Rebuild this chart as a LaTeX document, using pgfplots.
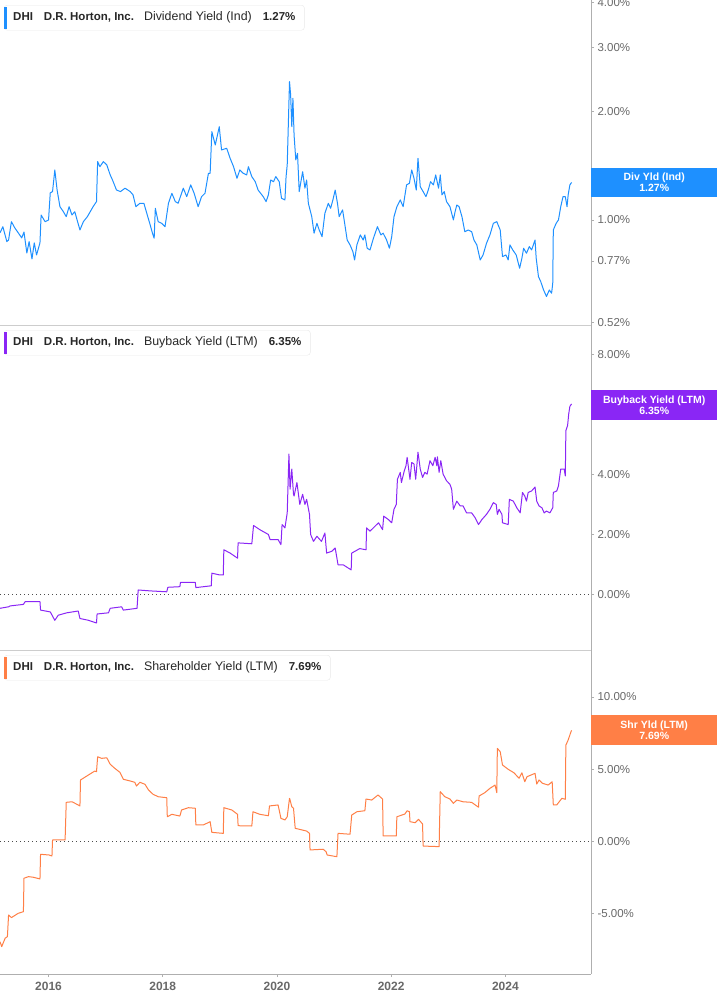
\documentclass[border=0pt]{standalone}
\usepackage{pgfplots}
\pgfplotsset{compat=1.18}
\usepackage{fontspec}
\setmainfont{Liberation Sans}

\definecolor{divc}{RGB}{30,144,255}
\definecolor{bbc}{RGB}{138,38,245}
\definecolor{shc}{RGB}{255,127,70}
\definecolor{axc}{RGB}{175,175,175}
\definecolor{sepc}{RGB}{205,205,205}
\definecolor{lblc}{RGB}{105,105,105}
\definecolor{txtc}{RGB}{40,40,40}

% dividend yield (indicated), % -- log scale
\pgfplotstableread{
yr pct
2015.15 0.921
2015.20 0.958
2015.27 0.871
2015.30 0.880
2015.35 0.989
2015.41 0.950
2015.47 0.921
2015.53 0.892
2015.57 0.926
2015.62 0.810
2015.66 0.871
2015.71 0.780
2015.75 0.864
2015.79 0.800
2015.85 0.864
2015.87 1.032
2015.94 0.989
2016.00 1.000
2016.03 1.188
2016.07 1.198
2016.11 1.375
2016.15 1.210
2016.20 1.088
2016.26 1.054
2016.31 1.021
2016.36 1.088
2016.41 1.032
2016.46 1.054
2016.50 1.000
2016.55 0.938
2016.61 0.989
2016.68 1.021
2016.73 1.054
2016.78 1.088
2016.84 1.124
2016.86 1.450
2016.90 1.404
2016.96 1.450
2017.02 1.420
2017.08 1.332
2017.12 1.290
2017.19 1.210
2017.26 1.198
2017.34 1.224
2017.43 1.198
2017.48 1.173
2017.53 1.088
2017.60 1.112
2017.67 1.112
2017.72 1.044
2017.78 0.969
2017.82 0.919
2017.85 0.890
2017.87 1.077
2017.92 0.989
2017.98 0.979
2018.04 0.958
2018.10 1.112
2018.16 1.185
2018.22 1.124
2018.27 1.112
2018.36 1.224
2018.42 1.160
2018.49 1.250
2018.55 1.185
2018.62 1.088
2018.68 1.160
2018.74 1.185
2018.80 1.346
2018.83 1.346
2018.86 1.755
2018.92 1.612
2018.99 1.811
2019.03 1.562
2019.12 1.579
2019.18 1.481
2019.24 1.404
2019.30 1.304
2019.35 1.375
2019.41 1.346
2019.47 1.332
2019.50 1.404
2019.56 1.318
2019.62 1.276
2019.67 1.210
2019.76 1.160
2019.81 1.124
2019.85 1.173
2019.89 1.290
2019.94 1.276
2019.98 1.318
2020.04 1.276
2020.08 1.148
2020.14 1.136
2020.16 1.318
2020.18 1.420
2020.22 2.413
2020.24 2.217
2020.26 1.811
2020.28 2.171
2020.30 1.718
2020.33 1.466
2020.36 1.529
2020.39 1.198
2020.45 1.360
2020.49 1.224
2020.52 1.290
2020.55 1.112
2020.61 1.021
2020.65 0.919
2020.70 0.979
2020.74 0.938
2020.79 0.899
2020.84 1.044
2020.90 1.112
2020.94 1.077
2020.98 1.136
2021.02 1.210
2021.06 1.112
2021.09 1.021
2021.15 1.066
2021.19 0.969
2021.23 0.880
2021.28 0.853
2021.33 0.817
2021.36 0.775
2021.40 0.853
2021.46 0.909
2021.51 0.880
2021.54 0.909
2021.58 0.835
2021.63 0.826
2021.69 0.890
2021.76 0.958
2021.82 0.909
2021.86 0.919
2021.92 0.880
2021.97 0.835
2022.01 0.899
2022.05 1.021
2022.10 1.088
2022.16 1.136
2022.21 1.088
2022.27 1.250
2022.32 1.263
2022.36 1.375
2022.40 1.304
2022.44 1.210
2022.47 1.481
2022.51 1.236
2022.56 1.198
2022.61 1.160
2022.65 1.210
2022.69 1.276
2022.74 1.250
2022.78 1.332
2022.83 1.224
2022.86 1.332
2022.89 1.173
2022.93 1.198
2022.97 1.124
2023.03 1.088
2023.09 1.000
2023.12 1.054
2023.15 1.100
2023.19 1.088
2023.24 1.021
2023.29 0.928
2023.35 0.938
2023.41 0.928
2023.45 0.880
2023.50 0.853
2023.56 0.775
2023.61 0.800
2023.67 0.862
2023.73 0.909
2023.79 0.979
2023.85 0.989
2023.91 0.938
2023.95 0.792
2024.01 0.800
2024.05 0.775
2024.08 0.853
2024.13 0.826
2024.19 0.800
2024.25 0.735
2024.29 0.784
2024.32 0.835
2024.37 0.809
2024.42 0.844
2024.46 0.826
2024.52 0.880
2024.54 0.784
2024.58 0.697
2024.62 0.675
2024.67 0.640
2024.72 0.614
2024.77 0.640
2024.81 0.627
2024.83 0.668
2024.84 0.938
2024.89 0.979
2024.93 1.000
2024.97 1.088
2025.01 1.160
2025.05 1.160
2025.08 1.088
2025.10 1.173
2025.13 1.250
2025.16 1.270
}\divyld

% buyback yield (LTM), %
\pgfplotstableread{
yr pct
2015.15 -0.46
2015.30 -0.41
2015.33 -0.38
2015.56 -0.33
2015.59 -0.24
2015.85 -0.24
2015.86 -0.52
2016.03 -0.58
2016.11 -0.86
2016.17 -0.69
2016.32 -0.61
2016.52 -0.55
2016.55 -0.80
2016.70 -0.86
2016.84 -0.95
2016.85 -0.65
2017.05 -0.61
2017.08 -0.46
2017.28 -0.41
2017.31 -0.52
2017.55 -0.46
2017.57 0.15
2017.78 0.12
2018.07 0.09
2018.09 0.24
2018.30 0.26
2018.31 0.40
2018.57 0.40
2018.58 0.23
2018.85 0.29
2018.86 0.71
2019.00 0.65
2019.06 0.65
2019.07 1.49
2019.18 1.38
2019.31 1.21
2019.32 1.72
2019.56 1.69
2019.59 2.30
2019.70 2.16
2019.85 2.00
2019.88 1.83
2020.02 1.83
2020.07 1.66
2020.09 2.33
2020.14 2.22
2020.18 2.72
2020.21 4.68
2020.23 3.51
2020.26 4.18
2020.29 3.34
2020.30 3.28
2020.35 3.73
2020.40 3.00
2020.45 3.34
2020.49 3.00
2020.52 3.17
2020.57 2.67
2020.59 2.00
2020.64 1.77
2020.70 1.94
2020.78 1.77
2020.84 2.05
2020.87 1.38
2020.96 1.44
2021.02 1.55
2021.07 0.99
2021.16 0.99
2021.25 0.88
2021.30 0.82
2021.31 1.38
2021.45 1.53
2021.56 1.49
2021.57 2.22
2021.63 2.11
2021.72 2.28
2021.78 2.39
2021.85 2.16
2021.87 2.61
2021.95 2.50
2022.01 2.39
2022.05 2.84
2022.09 3.00
2022.11 3.84
2022.16 4.07
2022.18 3.73
2022.23 4.12
2022.26 4.29
2022.28 4.57
2022.33 3.84
2022.36 4.40
2022.40 4.35
2022.43 3.84
2022.47 4.74
2022.51 4.18
2022.55 3.90
2022.59 4.07
2022.63 4.01
2022.68 4.46
2022.73 4.29
2022.77 4.57
2022.80 4.29
2022.81 4.59
2022.84 4.07
2022.87 4.46
2022.91 4.01
2022.97 3.79
2023.03 3.67
2023.06 3.51
2023.09 2.84
2023.15 3.11
2023.21 2.95
2023.26 2.95
2023.32 2.72
2023.41 2.72
2023.47 2.56
2023.53 2.33
2023.59 2.50
2023.67 2.67
2023.73 2.84
2023.79 3.06
2023.84 3.00
2023.86 2.67
2023.89 2.84
2023.94 2.67
2023.95 2.39
2024.05 2.33
2024.07 3.17
2024.14 3.11
2024.20 2.89
2024.26 2.72
2024.30 3.40
2024.34 3.28
2024.37 3.11
2024.40 3.40
2024.46 3.45
2024.52 3.58
2024.55 3.11
2024.59 2.95
2024.64 2.89
2024.68 2.72
2024.72 2.78
2024.78 2.72
2024.83 2.89
2024.84 3.40
2024.90 3.45
2024.93 3.62
2024.97 4.18
2025.03 4.18
2025.05 3.95
2025.06 5.46
2025.09 5.63
2025.11 6.02
2025.13 6.27
2025.16 6.35
}\bbyld

% shareholder yield (LTM), %
\pgfplotstableread{
yr pct
2015.15 -6.96
2015.18 -7.30
2015.24 -6.72
2015.28 -6.61
2015.30 -5.11
2015.35 -5.29
2015.47 -4.99
2015.56 -4.88
2015.57 -2.56
2015.65 -2.45
2015.73 -2.49
2015.85 -2.61
2015.86 -0.90
2016.01 -0.95
2016.06 -1.02
2016.07 0.09
2016.29 0.09
2016.31 2.70
2016.41 2.74
2016.50 2.56
2016.55 2.45
2016.56 4.25
2016.68 4.55
2016.81 4.87
2016.84 4.82
2016.86 5.86
2016.93 5.75
2017.02 5.79
2017.08 5.34
2017.16 5.06
2017.25 4.78
2017.31 4.30
2017.43 4.18
2017.51 4.09
2017.54 3.83
2017.60 4.09
2017.69 3.95
2017.75 3.56
2017.83 3.26
2017.92 3.09
2018.07 3.02
2018.08 1.70
2018.16 1.87
2018.30 1.75
2018.33 2.17
2018.45 2.33
2018.57 2.29
2018.58 1.13
2018.71 1.13
2018.83 1.36
2018.86 0.62
2019.06 0.55
2019.07 2.33
2019.21 2.17
2019.31 1.87
2019.32 1.08
2019.56 1.06
2019.58 2.05
2019.70 1.87
2019.85 1.77
2019.87 2.45
2020.02 2.52
2020.07 1.59
2020.14 1.48
2020.18 1.70
2020.22 2.98
2020.23 2.86
2020.26 2.40
2020.29 2.29
2020.32 0.90
2020.52 0.71
2020.57 0.55
2020.58 -0.60
2020.81 -0.55
2020.86 -0.72
2020.88 -0.95
2021.05 -1.07
2021.07 0.55
2021.28 0.49
2021.31 1.82
2021.40 2.05
2021.54 2.12
2021.56 2.93
2021.66 2.86
2021.77 3.21
2021.85 2.93
2021.86 0.37
2022.09 0.37
2022.10 1.70
2022.24 1.89
2022.28 2.12
2022.32 2.05
2022.33 1.36
2022.42 1.29
2022.48 1.52
2022.55 1.20
2022.56 -0.33
2022.84 -0.37
2022.86 3.44
2022.94 3.09
2023.03 2.93
2023.09 2.63
2023.15 2.86
2023.26 2.74
2023.41 2.70
2023.53 2.36
2023.54 3.14
2023.64 3.37
2023.73 3.67
2023.82 3.90
2023.85 3.37
2023.86 6.44
2023.91 6.21
2023.95 5.29
2024.05 4.99
2024.15 4.75
2024.24 4.37
2024.29 4.75
2024.34 4.13
2024.38 4.48
2024.52 4.71
2024.55 3.97
2024.59 4.25
2024.65 4.02
2024.75 3.90
2024.82 4.13
2024.84 2.52
2024.90 2.52
2024.99 2.98
2025.05 2.91
2025.06 6.67
2025.10 7.02
2025.15 7.60
2025.16 7.69
}\shyld

\pgfplotsset{
  panel/.style={
    scale only axis, width=591pt,
    xmin=2015.15, xmax=2025.50,
    axis x line*=bottom, axis y line*=right,
    x axis line style={sepc, line width=0.8pt},
    y axis line style={axc, line width=0.8pt},
    ytick pos=right, tick align=outside,
    major tick length=3pt, minor tick num=0,
    ytick style={axc, line width=0.8pt},
    yticklabel style={font=\fontsize{11.5}{13}\selectfont, text=lblc},
    /pgf/number format/assume math mode=true,
    xtick=\empty, clip=false,
    every axis plot/.append style={line width=1pt, line join=round},
  },
}
\tikzset{
  zero/.style={black!70, line width=0.8pt, dash pattern=on 0.9pt off 3.1pt},
  tag/.style={text=white, font=\bfseries\fontsize{10.5}{11}\selectfont,
    align=center, minimum width=126pt, minimum height=29.5pt,
    inner sep=0pt, anchor=west},
  legbox/.style={draw=black!9, fill=white, rounded corners=3pt,
    minimum height=25pt, inner ysep=0pt, inner xsep=9pt, anchor=north west,
    text=txtc, font=\bfseries\fontsize{11.5}{13}\selectfont},
}
\newcommand\metric[1]{{\mdseries\fontsize{12.4}{13}\selectfont #1}}

\begin{document}
\begin{tikzpicture}
\useasboundingbox (0pt,0pt) rectangle (717pt,-1005pt);

% --- dividend yield
\begin{axis}[panel, at={(0pt,0pt)}, anchor=north west, height=325pt,
  ymode=log, ymin=0.512, ymax=4.06,
  ytick={0.52,0.77,1,2,3,4}, yminorticks=false,
  yticklabels={0.52\%,0.77\%,1.00\%,2.00\%,3.00\%,4.00\%}]
\addplot[divc] table[x=yr, y=pct] {\divyld};
\end{axis}

% --- buyback yield
\begin{axis}[panel, at={(0pt,-325pt)}, anchor=north west, height=325pt,
  ymin=-1.85, ymax=8.98,
  ytick={0,2,4,6,8},
  yticklabels={0.00\%,2.00\%,4.00\%,6.00\%,8.00\%}]
\draw[zero] (axis cs:2015.15,0) -- (axis cs:2025.50,0);
\addplot[bbc] table[x=yr, y=pct] {\bbyld};
\end{axis}

% --- shareholder yield
\begin{axis}[panel, at={(0pt,-650pt)}, anchor=north west, height=324pt,
  ymin=-9.2, ymax=13.26,
  x axis line style={axc, line width=0.8pt},
  xtick={2016,2018,2020,2022,2024},
  xticklabels={2016,2018,2020,2022,2024},
  xtick style={axc, line width=0.8pt}, xtick pos=bottom,
  xticklabel style={font=\bfseries\fontsize{12}{14}\selectfont, text=lblc, yshift=-2pt},
  ytick={-5,0,5,10},
  yticklabels={-5.00\%,0.00\%,5.00\%,10.00\%}]
\draw[zero] (axis cs:2015.15,0) -- (axis cs:2025.50,0);
\addplot[shc] table[x=yr, y=pct] {\shyld};
\end{axis}

% value tags at the right edge
\node[tag, fill=divc] at (591pt,-182.5pt) {Div Yld (Ind)\\1.27\%};
\node[tag, fill=bbc]  at (591pt,-405pt)   {Buyback Yield (LTM)\\6.35\%};
\node[tag, fill=shc]  at (591pt,-730pt)   {Shr Yld (LTM)\\7.69\%};

% series headers
\node[legbox] at (4pt,-5pt)
  {DHI\hspace{11pt}D.R. Horton, Inc.\hspace{10pt}\metric{Dividend Yield (Ind)}\hspace{11pt}1.27\%\hspace{5pt}};
\fill[divc] (4pt,-7pt) rectangle (6.8pt,-29pt);
\node[legbox] at (4pt,-330pt)
  {DHI\hspace{11pt}D.R. Horton, Inc.\hspace{10pt}\metric{Buyback Yield (LTM)}\hspace{11pt}6.35\%\hspace{5pt}};
\fill[bbc] (4pt,-332pt) rectangle (6.8pt,-354pt);
\node[legbox] at (4pt,-655pt)
  {DHI\hspace{11pt}D.R. Horton, Inc.\hspace{10pt}\metric{Shareholder Yield (LTM)}\hspace{11pt}7.69\%\hspace{5pt}};
\fill[shc] (4pt,-657pt) rectangle (6.8pt,-679pt);
\end{tikzpicture}
\end{document}
